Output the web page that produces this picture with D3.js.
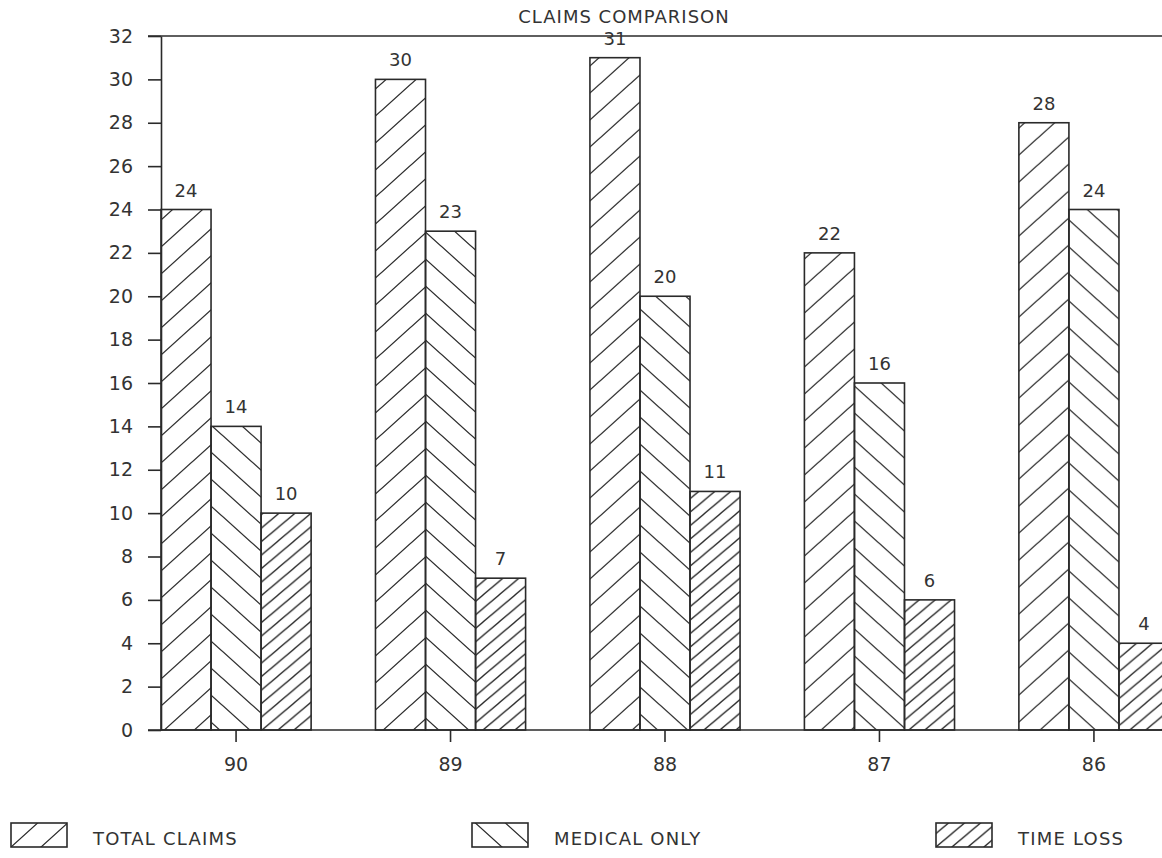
<!DOCTYPE html>
<html><head><meta charset="utf-8">
<script src="https://cdn.jsdelivr.net/npm/d3@7"></script>
<style>
body{margin:0;background:#fff;}
svg{display:block;background:#fff;}
text{font-family:"DejaVu Sans",sans-serif;fill:#333;}
</style>
</head><body>
<svg id="chart" width="1162" height="858"></svg>
<script>
// ---- data ----
const years = ["90","89","88","87","86"];
const seriesKeys = ["total","medical","timeloss"];
const seriesNames = ["TOTAL CLAIMS","MEDICAL ONLY","TIME LOSS"];
const totalClaims = [24,30,31,22,28];
const medicalOnly = [14,23,20,16,24];
const timeLoss = [10,7,11,6,4];
const yTickValues = [0,2,4,6,8,10,12,14,16,18,20,22,24,26,28,30,32];
const chartTitle = "CLAIMS COMPARISON";

// ---- layout ----
const W = 1162, H = 858;
const svg = d3.select("#chart");
const ink = "#2a2a2a";
const y = d3.scaleLinear().domain([0,32]).range([730,36]);
const x0 = d3.scaleBand().domain(years).range([161,1169]).paddingInner(0.3).paddingOuter(0);
const x1 = d3.scaleBand().domain(seriesKeys).range([0,x0.bandwidth()]).padding(0);

const seriesValues = [totalClaims, medicalOnly, timeLoss];
const rows = years.map((yr,i)=>({year:yr, vals: seriesKeys.map((k,j)=>({key:k, j, year:yr, i, v: seriesValues[j][i]}))}));

// pattern geometry per series: dir +1 = "/", -1 = "\"
const patSpec = {
  total:   {V:27, Wd:30, dir:1},
  medical: {V:27, Wd:30, dir:-1},
  timeloss:{V:13.5, Wd:16, dir:1}
};
const defs = svg.append("defs");
function makePattern(id, key, ax, ay){
  const p = patSpec[key];
  const pat = defs.append("pattern").attr("id",id).attr("patternUnits","userSpaceOnUse")
    .attr("x",ax).attr("y",ay).attr("width",p.Wd).attr("height",p.V);
  let d = "";
  for(let k=-1;k<=1;k++){
    const xa=-4, xb=p.Wd+4;
    const f = xx => p.dir===1 ? (p.V - p.V/p.Wd*xx + p.V*k) : (p.V/p.Wd*xx + p.V*k);
    d += `M${xa},${f(xa)}L${xb},${f(xb)}`;
  }
  pat.append("path").attr("d",d).attr("stroke",ink).attr("stroke-width",1.3).attr("fill","none");
}

rows.forEach(r=>{
  const medLeft = x0(r.year)+x1("medical");
  r.vals.forEach(c=>{
    const ax = c.key==="timeloss" ? x0(r.year)+x1("timeloss") : medLeft;
    const ay = c.key==="timeloss" ? y(0) : y(0)+2;
    makePattern(`p-${c.i}-${c.j}`, c.key, ax, ay);
  });
});

// title
svg.append("text").attr("x",624).attr("y",23).attr("text-anchor","middle")
  .style("font-size","18px").style("letter-spacing","1px").text(chartTitle);

// top frame line and baseline
svg.append("line").attr("x1",148).attr("x2",W).attr("y1",y(32)).attr("y2",y(32)).attr("stroke",ink).attr("stroke-width",1.6);

// bars
const g = svg.append("g");
const grp = g.selectAll("g.grp").data(rows).join("g").attr("class","grp")
  .attr("transform",d=>`translate(${x0(d.year)},0)`);
grp.selectAll("rect").data(d=>d.vals).join("rect")
  .attr("x",d=>x1(d.key)).attr("width",x1.bandwidth())
  .attr("y",d=>y(d.v)).attr("height",d=>y(0)-y(d.v))
  .attr("fill",d=>`url(#p-${d.i}-${d.j})`).attr("stroke",ink).attr("stroke-width",1.6);
grp.selectAll("text.val").data(d=>d.vals).join("text").attr("class","val")
  .attr("x",d=>x1(d.key)+x1.bandwidth()/2).attr("y",d=>y(d.v)-13)
  .attr("text-anchor","middle").style("font-size","18px").text(d=>d.v);

// y axis
const yAxis = svg.append("g").attr("transform","translate(161,0)")
  .call(d3.axisLeft(y).tickValues(yTickValues).tickSize(13).tickPadding(15).tickSizeOuter(0));
yAxis.select(".domain").attr("stroke",ink).attr("stroke-width",1.6);
yAxis.selectAll(".tick line").attr("stroke",ink).attr("stroke-width",1.6);
yAxis.selectAll(".tick text").style("font-size","19px").style("font-family","DejaVu Sans").attr("fill","#333");

// x axis
const xAxis = svg.append("g").attr("transform",`translate(0,${y(0)})`)
  .call(d3.axisBottom(x0).tickSize(12).tickPadding(16).tickSizeOuter(0));
xAxis.select(".domain").remove();
xAxis.selectAll(".tick line").attr("stroke",ink).attr("stroke-width",1.6);
xAxis.selectAll(".tick text").style("font-size","19px").style("font-family","DejaVu Sans").attr("fill","#333");
svg.append("line").attr("x1",148).attr("x2",W).attr("y1",y(0)).attr("y2",y(0)).attr("stroke",ink).attr("stroke-width",1.6);

// legend
const legendBoxX = [11,472,936];
seriesKeys.forEach((k,j)=>{
  const bx = legendBoxX[j], by = 823, bw = 56, bh = 24;
  makePattern(`leg-${j}`, k, bx, by+bh);
  svg.append("rect").attr("x",bx).attr("y",by).attr("width",bw).attr("height",bh)
    .attr("fill",`url(#leg-${j})`).attr("stroke",ink).attr("stroke-width",1.6);
  svg.append("text").attr("x",bx+82).attr("y",by+22).style("font-size","18px")
    .style("letter-spacing","1.2px").text(seriesNames[j]);
});
</script>
</body></html>
